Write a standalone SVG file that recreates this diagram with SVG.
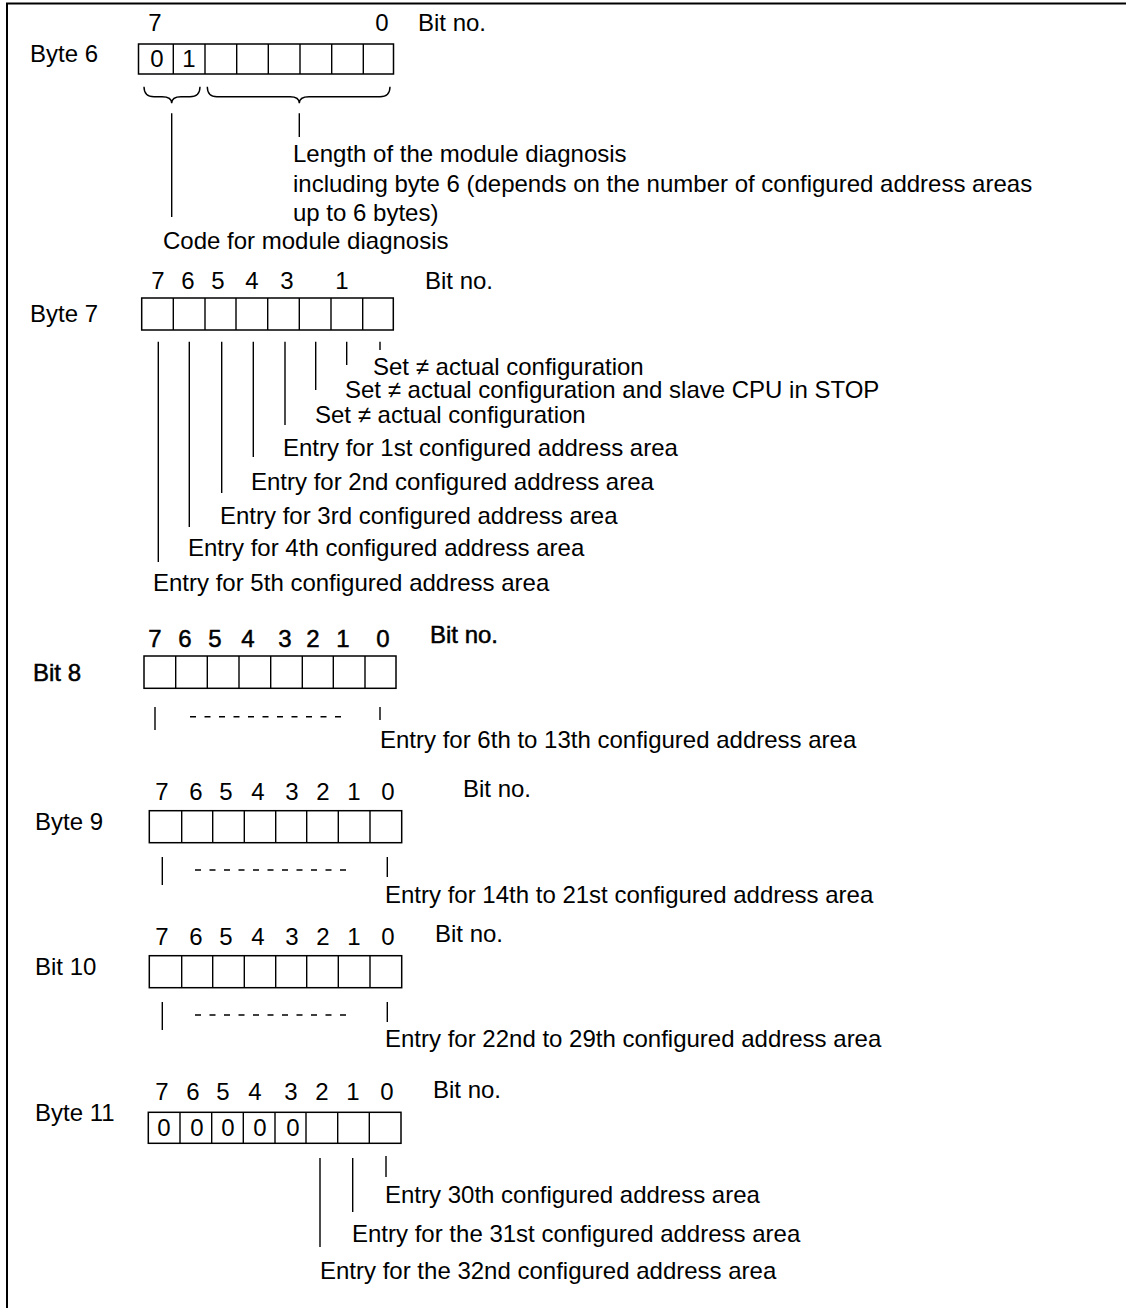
<svg xmlns="http://www.w3.org/2000/svg" width="1126" height="1308" viewBox="0 0 1126 1308">
<style>
text{font-family:"Liberation Sans",Arial,sans-serif;font-size:24px;fill:#000}
.d{text-anchor:middle}
.b{stroke:#000;stroke-width:0.5}
.cell{fill:#fff;stroke:#000;stroke-width:1.5}
.ln{stroke:#000;stroke-width:1.4;fill:none}
.dash{stroke:#000;stroke-width:1.4;stroke-dasharray:6 8.5;fill:none}
</style>
<rect width="1126" height="1308" fill="#fff"/>
<path d="M7,1308 L7,3.5 L1126,3.5" fill="none" stroke="#000" stroke-width="2"/>

<g id="byte6">
<text x="30" y="62">Byte 6</text>
<text class="d" x="155" y="31">7</text>
<text class="d" x="382" y="31">0</text>
<text x="418" y="31">Bit no.</text>
<rect class="cell" x="138.5" y="44" width="255" height="30"/>
<path class="ln" d="M173.3,44V74M205,44V74M236.7,44V74M268.3,44V74M300,44V74M331.7,44V74M363.3,44V74"/>
<text class="d" x="157" y="67">0</text>
<text class="d" x="189" y="67">1</text>
</g>

<g id="byte6-desc">
<text x="293" y="162">Length of the module diagnosis</text>
<text x="293" y="192">including byte 6 (depends on the number of configured address areas</text>
<text x="293" y="221">up to 6 bytes)</text>
<text x="163" y="249">Code for module diagnosis</text>
</g>

<g id="byte7">
<text x="30" y="322">Byte 7</text>
<text class="d" x="158" y="289">7</text>
<text class="d" x="188" y="289">6</text>
<text class="d" x="218" y="289">5</text>
<text class="d" x="252" y="289">4</text>
<text class="d" x="287" y="289">3</text>
<text class="d" x="342" y="289">1</text>
<text x="425" y="289">Bit no.</text>
<rect class="cell" x="141.7" y="298" width="251.6" height="32"/>
<path class="ln" d="M173.3,298V330M205,298V330M236,298V330M267.7,298V330M299.3,298V330M331,298V330M362.7,298V330"/>
</g>

<g id="byte7-desc">
<text x="373" y="375">Set ≠ actual configuration</text>
<text x="345" y="398">Set ≠ actual configuration and slave CPU in STOP</text>
<text x="315" y="423">Set ≠ actual configuration</text>
<text x="283" y="456">Entry for 1st configured address area</text>
<text x="251" y="490">Entry for 2nd configured address area</text>
<text x="220" y="524">Entry for 3rd configured address area</text>
<text x="188" y="556">Entry for 4th configured address area</text>
<text x="153" y="591">Entry for 5th configured address area</text>
</g>

<g id="bit8">
<text class="b" x="33" y="681">Bit 8</text>
<text class="d b" x="155" y="647">7</text>
<text class="d b" x="185" y="647">6</text>
<text class="d b" x="215" y="647">5</text>
<text class="d b" x="248" y="647">4</text>
<text class="d b" x="285" y="647">3</text>
<text class="d b" x="313" y="647">2</text>
<text class="d b" x="343" y="647">1</text>
<text class="d b" x="383" y="647">0</text>
<text class="b" x="430" y="643">Bit no.</text>
<rect class="cell" x="144" y="656" width="252" height="32.3"/>
<path class="ln" d="M175.7,656V688.3M207.3,656V688.3M239,656V688.3M270.7,656V688.3M302.3,656V688.3M333.3,656V688.3M365,656V688.3"/>
<text x="380" y="748">Entry for 6th to 13th configured address area</text>
</g>

<g id="byte9">
<text x="35" y="830">Byte 9</text>
<text class="d" x="162" y="800">7</text>
<text class="d" x="196" y="800">6</text>
<text class="d" x="226" y="800">5</text>
<text class="d" x="258" y="800">4</text>
<text class="d" x="292" y="800">3</text>
<text class="d" x="323" y="800">2</text>
<text class="d" x="354" y="800">1</text>
<text class="d" x="388" y="800">0</text>
<text x="463" y="797">Bit no.</text>
<rect class="cell" x="149.3" y="810.7" width="252.4" height="32"/>
<path class="ln" d="M181.7,810.7V842.7M212.7,810.7V842.7M244.3,810.7V842.7M275.7,810.7V842.7M306.7,810.7V842.7M338.3,810.7V842.7M370,810.7V842.7"/>
<text x="385" y="903">Entry for 14th to 21st configured address area</text>
</g>

<g id="bit10">
<text x="35" y="975">Bit 10</text>
<text class="d" x="162" y="945">7</text>
<text class="d" x="196" y="945">6</text>
<text class="d" x="226" y="945">5</text>
<text class="d" x="258" y="945">4</text>
<text class="d" x="292" y="945">3</text>
<text class="d" x="323" y="945">2</text>
<text class="d" x="354" y="945">1</text>
<text class="d" x="388" y="945">0</text>
<text x="435" y="942">Bit no.</text>
<rect class="cell" x="149.3" y="955.7" width="252.4" height="32"/>
<path class="ln" d="M181.7,955.7V987.7M212.7,955.7V987.7M244.3,955.7V987.7M275.7,955.7V987.7M306.7,955.7V987.7M338.3,955.7V987.7M370,955.7V987.7"/>
<text x="385" y="1047">Entry for 22nd to 29th configured address area</text>
</g>

<g id="byte11">
<text x="35" y="1121">Byte 11</text>
<text class="d" x="162" y="1100">7</text>
<text class="d" x="193" y="1100">6</text>
<text class="d" x="223" y="1100">5</text>
<text class="d" x="255" y="1100">4</text>
<text class="d" x="291" y="1100">3</text>
<text class="d" x="322" y="1100">2</text>
<text class="d" x="353" y="1100">1</text>
<text class="d" x="387" y="1100">0</text>
<text x="433" y="1098">Bit no.</text>
<rect class="cell" x="148.3" y="1112.3" width="252.7" height="31"/>
<path class="ln" d="M180,1112.3V1143.3M211.7,1112.3V1143.3M243.3,1112.3V1143.3M275,1112.3V1143.3M306,1112.3V1143.3M337.7,1112.3V1143.3M369.3,1112.3V1143.3"/>
<text class="d" x="164" y="1136">0</text>
<text class="d" x="197" y="1136">0</text>
<text class="d" x="228" y="1136">0</text>
<text class="d" x="260" y="1136">0</text>
<text class="d" x="293" y="1136">0</text>
<text x="385" y="1203">Entry 30th configured address area</text>
<text x="352" y="1242">Entry for the 31st configured address area</text>
<text x="320" y="1279">Entry for the 32nd configured address area</text>
</g>

<g id="connectors">
<path class="ln" d="M144,86.7 Q144,96.7 154,96.7 L162,96.7 Q171.7,96.7 171.7,103.3 Q171.7,96.7 181,96.7 L190,96.7 Q200,96.7 200,86.7"/>
<path class="ln" d="M207.3,86.7 Q207.3,96.7 217,96.7 L290,96.7 Q299.3,96.7 299.3,103.3 Q299.3,96.7 309,96.7 L380,96.7 Q390,96.7 390,86.7"/>
<path class="ln" d="M171.7,113.3V217M299.3,113.3V137"/>
<path class="ln" d="M380,341.7V350M346.7,341.7V365M315.7,341.7V390M285,341.7V425M253.3,341.7V457M221.7,341.7V493M189.3,341.7V527M158.3,341.7V562"/>
<path class="ln" d="M155,707V730M380,707V720"/>
<path class="dash" d="M190,716.7H345"/>
<path class="ln" d="M162.3,857V885M387.3,857V877"/>
<path class="dash" d="M195,870H350"/>
<path class="ln" d="M162.3,1002V1030M387.3,1002V1022"/>
<path class="dash" d="M195,1015H350"/>
<path class="ln" d="M320,1158V1247M352.7,1158V1212M386,1156V1177"/>
</g>
</svg>
